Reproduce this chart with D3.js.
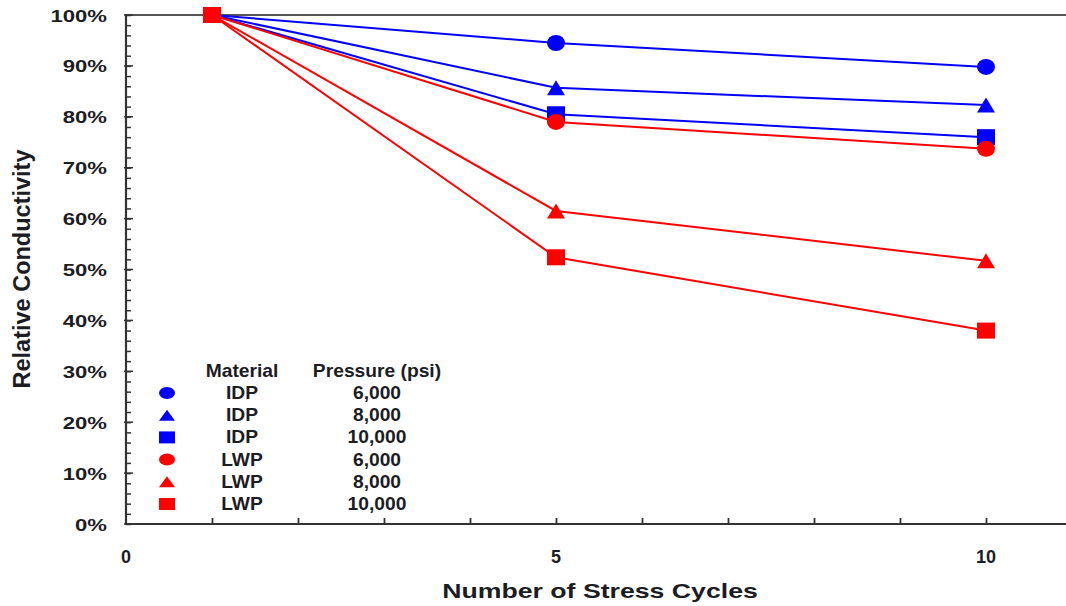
<!DOCTYPE html>
<html>
<head>
<meta charset="utf-8">
<script src="https://cdn.jsdelivr.net/npm/d3@7"></script>
<style>
  html, body { margin: 0; padding: 0; background: #fff; }
  svg { display: block; font-family: "Liberation Sans", Arial, sans-serif; }
</style>
</head>
<body>
<svg id="chart" width="1066" height="606"></svg>
<script>
// Stress-cycle test: relative conductivity after each loading cycle
const cycles = [1, 5, 10];
const idp6000 = [1.00, 0.945, 0.898];
const idp8000 = [1.00, 0.857, 0.823];
const idp10000 = [1.00, 0.805, 0.760];
const lwp6000 = [1.00, 0.790, 0.737];
const lwp8000 = [1.00, 0.615, 0.517];
const lwp10000 = [1.00, 0.524, 0.380];

const materials = ["IDP", "IDP", "IDP", "LWP", "LWP", "LWP"];
const pressures = ["6,000", "8,000", "10,000", "6,000", "8,000", "10,000"];
const shapes = ["circle", "triangle", "square", "circle", "triangle", "square"];
const seriesValues = [idp6000, idp8000, idp10000, lwp6000, lwp8000, lwp10000];

const xTickLabels = [0, 5, 10];
const yTickValues = [0, 0.1, 0.2, 0.3, 0.4, 0.5, 0.6, 0.7, 0.8, 0.9, 1.0];

const colorOf = m => (m === "IDP" ? "#0000ff" : "#ff0000");

const svg = d3.select("#chart");
const W = 1066;
const plotLeft = 126, plotTop = 15, plotBottom = 524;

const x = d3.scaleLinear().domain([0, 11]).range([plotLeft, 1072]);
const y = d3.scaleLinear().domain([0, 1]).range([plotBottom, plotTop]);

const ink = "#1c1c24";

// text drawn with a horizontal stretch
function label(g, px, py, str, size, sx, anchor) {
  return g.append("text")
    .attr("transform", `translate(${px},${py}) scale(${sx},1)`)
    .attr("text-anchor", anchor)
    .attr("font-size", size)
    .attr("font-weight", "bold")
    .attr("fill", ink)
    .text(str);
}

// ----- axes -----
const axes = svg.append("g");

// top frame line
axes.append("line")
  .attr("x1", plotLeft).attr("x2", W).attr("y1", plotTop).attr("y2", plotTop)
  .attr("stroke", "#555").attr("stroke-width", 2);

// left axis with inward ticks: minor every 2%, major every 10%
const yAxis = d3.axisRight(y)
  .tickValues(d3.range(0, 51).map(i => i / 50))
  .tickSize(5)
  .tickFormat("");
const yG = axes.append("g").attr("transform", `translate(${plotLeft},0)`).call(yAxis);
yG.select(".domain").remove();
yG.selectAll(".tick line").attr("stroke", "#333").attr("stroke-width", 1.5);
// longer major ticks
axes.append("g").selectAll("line").data(yTickValues).join("line")
  .attr("x1", plotLeft - 2).attr("x2", plotLeft + 7)
  .attr("y1", d => y(d)).attr("y2", d => y(d))
  .attr("stroke", "#333").attr("stroke-width", 1.5);

axes.append("line")
  .attr("x1", plotLeft).attr("x2", plotLeft).attr("y1", plotTop - 1).attr("y2", plotBottom + 1)
  .attr("stroke", "#333").attr("stroke-width", 2.2);

// bottom axis with inward ticks every cycle
const xAxis = d3.axisTop(x).tickValues(d3.range(1, 12)).tickSize(6).tickFormat("");
const xG = axes.append("g").attr("transform", `translate(0,${plotBottom})`).call(xAxis);
xG.select(".domain").remove();
xG.selectAll(".tick line").attr("stroke", "#333").attr("stroke-width", 1.8);

axes.append("line")
  .attr("x1", plotLeft - 1).attr("x2", W).attr("y1", plotBottom).attr("y2", plotBottom)
  .attr("stroke", "#333").attr("stroke-width", 2.2);

// tick labels
const fmt = d3.format(".0%");
yTickValues.forEach(v => label(axes, 107, y(v) + 6.5, fmt(v), 17, 1.3, "end"));
xTickLabels.forEach(v => label(axes, x(v), 563, String(v), 18, 1.0, "middle"));

// axis titles
label(axes, 600, 598, "Number of Stress Cycles", 21, 1.27, "middle");
axes.append("text")
  .attr("transform", "translate(30,269) rotate(-90)")
  .attr("text-anchor", "middle")
  .attr("font-size", 23.5)
  .attr("font-weight", "bold")
  .attr("fill", ink)
  .text("Relative Conductivity");

// ----- markers -----
function drawMarker(g, shape, cx, cy, w, h, color) {
  if (shape === "circle") {
    g.append("ellipse").attr("cx", cx).attr("cy", cy)
      .attr("rx", w / 2).attr("ry", h / 2).attr("fill", color);
  } else if (shape === "square") {
    g.append("rect").attr("x", cx - w / 2).attr("y", cy - h / 2)
      .attr("width", w).attr("height", h).attr("fill", color);
  } else {
    g.append("path")
      .attr("d", `M${cx},${cy - h / 2} L${cx + w / 2},${cy + h / 2} L${cx - w / 2},${cy + h / 2} Z`)
      .attr("fill", color);
  }
}

// ----- series -----
const plot = svg.append("g");
const line = d3.line().x(d => x(d[0])).y(d => y(d[1]));
const markerSize = { circle: [18, 16], square: [18, 16], triangle: [18, 15] };

seriesValues.forEach((vals, i) => {
  const color = colorOf(materials[i]);
  const pts = cycles.map((c, j) => [c, vals[j]]);
  const g = plot.append("g");
  g.append("path").datum(pts).attr("d", line)
    .attr("fill", "none").attr("stroke", color).attr("stroke-width", 2);
  const [mw, mh] = markerSize[shapes[i]];
  pts.forEach(p => drawMarker(g, shapes[i], x(p[0]), y(p[1]), mw, mh, color));
});

// ----- legend -----
const legend = svg.append("g");
const rowY0 = 393, rowStep = 22.2;
label(legend, 242, 377, "Material", 17.5, 1.1, "middle");
label(legend, 377, 377, "Pressure (psi)", 17.5, 1.1, "middle");
materials.forEach((m, i) => {
  const cy = rowY0 + i * rowStep;
  const [lw, lh] = shapes[i] === "triangle" ? [16, 11] : [16, 12];
  drawMarker(legend, shapes[i], 167, cy, lw, lh, colorOf(m));
  label(legend, 242, cy + 6, m, 17.5, 1.1, "middle");
  label(legend, 377, cy + 6, pressures[i], 17.5, 1.1, "middle");
});
</script>
</body>
</html>
